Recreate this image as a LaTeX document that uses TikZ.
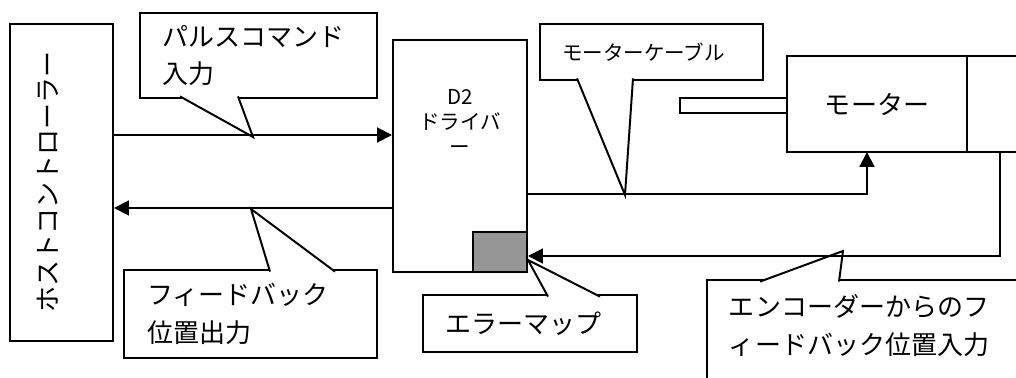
\documentclass[tikz,border=0pt]{standalone}
\usepackage{fontspec}
\setmainfont{Noto Sans CJK JP}
\usetikzlibrary{arrows.meta}
\definecolor{errgray}{HTML}{969696}
\newcommand{\bigjp}{\fontsize{18.5}{26.5}\selectfont}
\newcommand{\smalljp}{\fontsize{14.6}{17.8}\selectfont}
\newcommand{\calloutwedge}[3]{%
  \fill[white] #1 -- #2 -- #3 -- cycle;
  \draw #1 -- #2 -- #3;}

\begin{document}
\begin{tikzpicture}[line width=1.4pt,
    box/.style={draw, fill=white, inner sep=0pt},
    callbox/.style={draw, fill=white, align=left, inner ysep=0pt, font=\bigjp},
    arr/.style={-{Triangle[length=0.37cm,width=0.37cm]}}]
    \useasboundingbox (0,0) rectangle (25.4,-9.45);
    \clip (0,0) rectangle (25.4,-9.45);
    % blocks
    \node[box, minimum width=2.575cm, minimum height=7.925cm] (host) at (1.5375,-4.5625) {};
    \node[font=\bigjp, rotate=90, inner sep=0pt] (hostlabel) at (1.2,-4.55) {ホストコントローラー};
    \node[box, minimum width=3.35cm, minimum height=5.8cm] (driver) at (11.5,-3.9) {};
    \node[font=\smalljp, align=center, inner sep=0pt] (drvlabel) at (11.5,-3.05) {D2\\ドライバ\\ー};
    \node[box, fill=errgray, minimum width=1.35cm, minimum height=1.0cm] (errmap) at (12.5,-6.3) {};
    \node[box, minimum width=2.675cm, minimum height=0.375cm] (shaft) at (18.3375,-2.6375) {};
    \node[box, minimum width=4.5cm, minimum height=2.4cm, font=\bigjp] (motor) at (21.925,-2.6) {モーター};
    \node[box, minimum width=1.65cm, minimum height=2.4cm] (enc) at (25.0,-2.6) {};
    % callouts
    \node[callbox, minimum width=5.925cm, minimum height=2.125cm, text width=4.825cm,
          inner xsep=0.55cm] (pulse) at (6.4625,-1.3875) {パルスコマンド\\入力};
    \calloutwedge{(4.5,-2.41)}{(6.325,-3.425)}{(5.95,-2.41)}
    \node[callbox, minimum width=6.325cm, minimum height=2.2cm, text width=5.175cm,
          inner xsep=0.575cm] (fbout) at (6.2625,-7.85) {フィードバック\\位置出力};
    \calloutwedge{(6.75,-6.79)}{(6.275,-5.225)}{(8.375,-6.79)}
    \node[callbox, font=\smalljp, minimum width=5.575cm, minimum height=1.4cm, text width=4.475cm,
          inner xsep=0.55cm] (cable) at (16.2875,-1.3) {モーターケーブル};
    \calloutwedge{(14.425,-1.96)}{(15.625,-4.875)}{(15.825,-1.96)}
    \node[callbox, minimum width=5.35cm, minimum height=1.425cm, text width=4.25cm,
          inner xsep=0.55cm] (errcall) at (13.25,-8.0875) {エラーマップ};
    \calloutwedge{(13.7,-7.415)}{(13.2,-6.5)}{(15.0,-7.415)}
    \node[callbox, minimum width=8.325cm, minimum height=3.0cm] (fbin) at (21.8375,-8.5) {};
    \calloutwedge{(19.0,-7.04)}{(21.075,-6.275)}{(20.975,-7.04)}
    \node[font=\bigjp, align=left, text width=6.8cm, inner sep=0pt, anchor=west] (fbinlabel)
          at (18.2,-8.1375) {エンコーダーからのフ\\ィードバック位置入力};
    % connectors
    \coordinate (cmdlvl) at (0,-3.375);
    \coordinate (fblvl) at (0,-5.2);
    \coordinate (cablvl) at (0,-4.85);
    \coordinate (enclvl) at (0,-6.4);
    \coordinate (motin) at (21.675,-3.8);
    \draw[arr] (host.east |- cmdlvl) -- (driver.west |- cmdlvl);
    \draw[arr] (driver.west |- fblvl) -- (host.east |- fblvl);
    \draw[arr] (driver.east |- cablvl) -| (motin);
    \draw[arr] (enc.south) |- (errmap.east |- enclvl);
  \end{tikzpicture}
\end{document}
